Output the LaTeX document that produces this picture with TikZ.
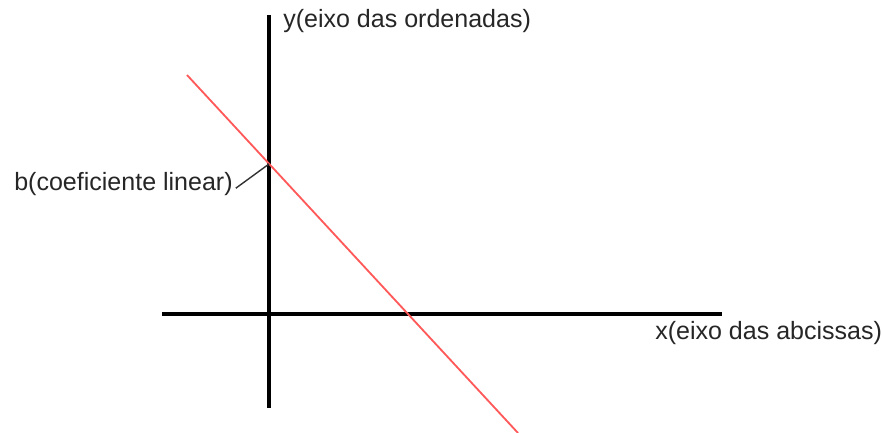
\documentclass[tikz,border=0pt]{standalone}
\usepackage{fontspec}
\setmainfont{Liberation Sans}
\usetikzlibrary{positioning, calc}

\begin{document}
\begin{tikzpicture}[
        x=0.025cm, y=-0.025cm,
        axis/.style  = {line width=2.8pt, black},
        reta/.style  = {line width=1.3pt, red!65},
        lbl/.style   = {inner sep=0pt, font=\fontsize{17.8}{20}\selectfont, text=black!85},
        guide/.style = {line width=1pt, black!80},
    ]
        \useasboundingbox (0,0) rectangle (882,433);

        % eixos
        \coordinate (ytop) at (269,15);
        \coordinate (ybot) at (269,408);
        \coordinate (xleft) at (162,314);
        \coordinate (xright) at (722,314);
        \draw[axis] (ytop) -- (ybot);
        \draw[axis] (xleft) -- (xright);

        % reta
        \coordinate (rA) at (187,75);
        \coordinate (rB) at (518,433);
        \draw[reta] (rA) -- (rB);
        \coordinate (b) at (269,164);

        % rotulos
        \node[lbl, anchor=west] (ylab) at (283,21) {y(eixo das ordenadas)};
        \node[lbl, anchor=west] (xlab) at (655,333) {x(eixo das abcissas)};
        \node[lbl, anchor=east] (blab) at (233,184) {b(coeficiente linear)};

        \draw[guide] (blab.east) ++(2pt,-3pt) coordinate (bl) -- (b);
    \end{tikzpicture}
\end{document}
